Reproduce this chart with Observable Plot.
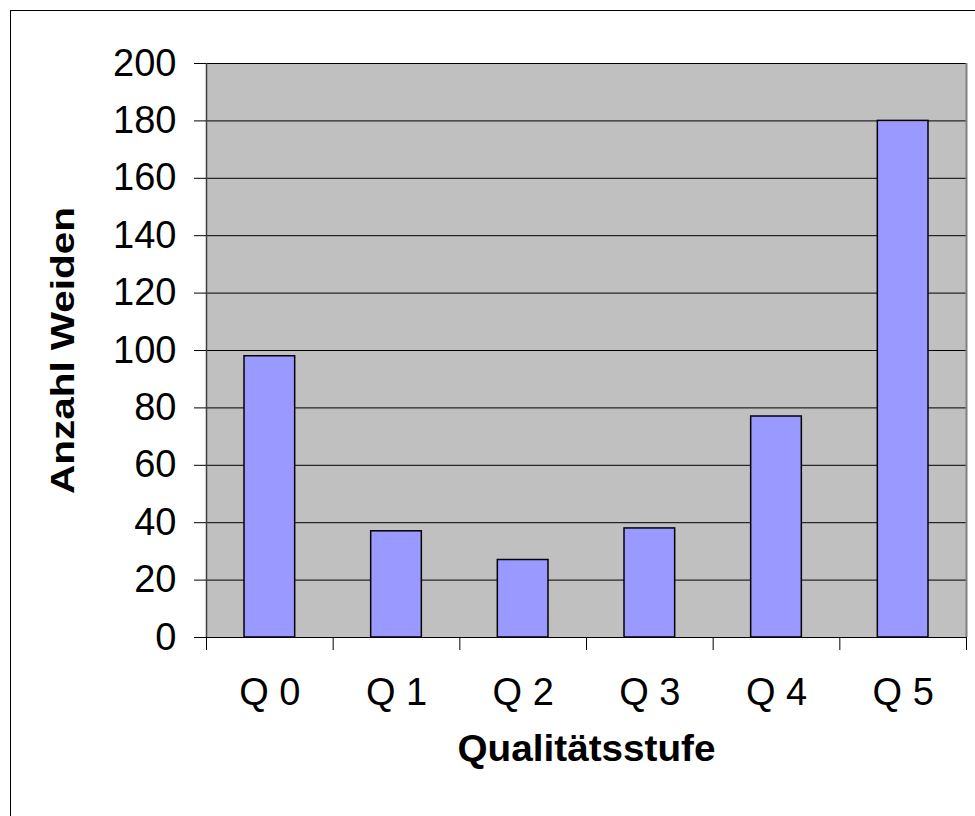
<!DOCTYPE html>
<html>
<head>
<meta charset="utf-8">
<script src="https://cdn.jsdelivr.net/npm/d3@7"></script>
<script src="https://cdn.jsdelivr.net/npm/@observablehq/plot@0.6"></script>
<style>
  html, body { margin: 0; padding: 0; background: #fff; overflow: hidden; }
  #wrap { position: relative; width: 975px; height: 816px; overflow: hidden; }
  #border { position: absolute; left: 10px; top: 10px; width: 1200px; height: 1200px; border: 1px solid #000; box-sizing: border-box; pointer-events: none; }
  #chart { position: absolute; left: 0; top: 0; }
</style>
</head>
<body>
<div id="wrap"><div id="border"></div><div id="chart"></div></div>
<script>
const categories = ["Q 0", "Q 1", "Q 2", "Q 3", "Q 4", "Q 5"];
const values = [98, 37, 27, 38, 77, 180];
const yTicks = [0, 20, 40, 60, 80, 100, 120, 140, 160, 180, 200];
const xTitle = "Qualitätsstufe";
const yTitle = "Anzahl Weiden";

const data = categories.map((c, i) => ({index: i, category: c, value: values[i]}));
const n = categories.length;
const centers = d3.range(n).map(i => i + 0.5);
const boundaries = d3.range(n + 1);

const font = "'Liberation Sans', Arial, Helvetica, sans-serif";

const chart = Plot.plot({
  width: 975,
  height: 816,
  marginLeft: 206,
  marginRight: 9,
  marginTop: 63,
  marginBottom: 179,
  style: {fontFamily: font, background: "transparent", color: "#000"},
  x: {domain: [0, n], axis: null},
  y: {domain: [0, 200], axis: null},
  marks: [
    Plot.frame({fill: "#c0c0c0", stroke: null}),
    Plot.ruleY(yTicks, {stroke: "#000", strokeWidth: 1}),
    Plot.ruleX([n], {stroke: "#808080", strokeWidth: 2}),
    Plot.rectY(data, {
      x1: d => d.index + 0.3,
      x2: d => d.index + 0.7,
      y: "value",
      fill: "#9999ff",
      stroke: "#000",
      strokeWidth: 1.5
    }),
    Plot.ruleX([0], {stroke: "#404040", strokeWidth: 1.5}),
    Plot.ruleY([0], {stroke: "#000", strokeWidth: 1}),
    Plot.axisY({ticks: yTicks, tickSize: 12, tickPadding: 18, fontSize: 38, label: null, stroke: "#000"}),
    Plot.axisX({ticks: boundaries, tickFormat: () => "", tickSize: 13, label: null, stroke: "#000"}),
    Plot.axisX({ticks: centers, tickFormat: v => categories[Math.round(v - 0.5)], tickSize: 0, tickPadding: 41, fontSize: 38, label: null}),
    Plot.text([xTitle], {frameAnchor: "bottom", textAnchor: "middle", dy: 123, fontSize: 37, fontWeight: "bold", fill: "#000"}),
    Plot.text([yTitle], {frameAnchor: "left", textAnchor: "middle", dx: -143, rotate: -90, fontSize: 33, fontWeight: "bold", fill: "#000"})
  ]
});

// the original titles are horizontally stretched; emulate with SVG textLength
chart.querySelectorAll("text").forEach(t => {
  if (t.textContent === xTitle) { t.setAttribute("textLength", "258"); t.setAttribute("lengthAdjust", "spacingAndGlyphs"); }
  if (t.textContent === yTitle) { t.setAttribute("textLength", "287"); t.setAttribute("lengthAdjust", "spacingAndGlyphs"); }
});

document.getElementById("chart").appendChild(chart);
</script>
</body>
</html>
